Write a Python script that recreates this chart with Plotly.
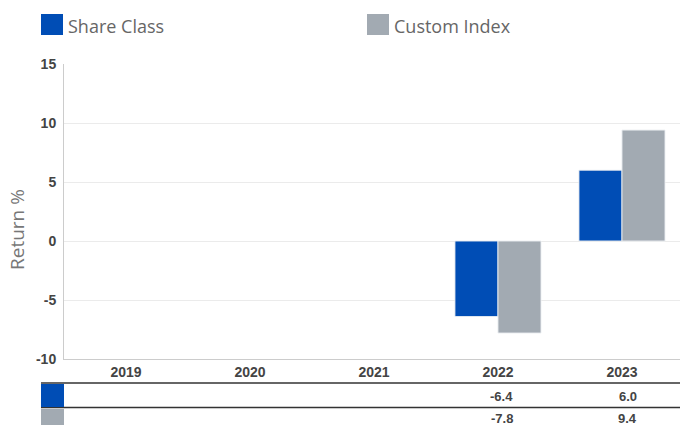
import plotly.graph_objects as go

years = ["2019", "2020", "2021", "2022", "2023"]
share_class = [None, None, None, -6.4, 6.0]
custom_index = [None, None, None, -7.8, 9.4]
series_names = ["Share Class", "Custom Index"]
series_colors = ["#004DB5", "#A2AAB2"]
y_ticks = [-10, -5, 0, 5, 10, 15]
y_tick_labels = ["-10", "-5", "0", "5", "10", "15"]

W, H = 680, 425
ML, MR, MT, MB = 64, 0, 64, 66
PW, PH = W - ML - MR, H - MT - MB


def px2x(px):
    return (px - ML) / PW


def px2y(py):
    return (H - MB - py) / PH


fig = go.Figure()
for name, vals, col in zip(series_names, [share_class, custom_index], series_colors):
    fig.add_trace(go.Bar(
        x=years, y=vals, name=name,
        marker=dict(color=col, line=dict(color="rgba(235,238,242,0.9)", width=1)),
        showlegend=False, hoverinfo="skip",
    ))

shapes = []
annotations = []

# legend
leg_x = [41, 367]
for i, (name, col) in enumerate(zip(series_names, series_colors)):
    x0 = leg_x[i]
    shapes.append(dict(type="rect", xref="paper", yref="paper",
                       x0=px2x(x0), x1=px2x(x0 + 22), y0=px2y(35), y1=px2y(14),
                       fillcolor=col, line=dict(width=0)))
    annotations.append(dict(xref="paper", yref="paper", x=px2x(x0 + 25), y=px2y(26),
                            text=name, showarrow=False, xanchor="left", yanchor="middle",
                            font=dict(family="Open Sans", size=18, color="#666666")))

# y title
annotations.append(dict(xref="paper", yref="paper", x=px2x(17), y=px2y(230),
                        text="Return %", textangle=-90, showarrow=False,
                        xanchor="center", yanchor="middle",
                        font=dict(family="Open Sans", size=19, color="#777777")))

# table lines
for ly in [383, 407.5]:
    shapes.append(dict(type="line", xref="paper", yref="paper",
                       x0=px2x(41), x1=1, y0=px2y(ly), y1=px2y(ly),
                       line=dict(color="#333333", width=1.5)))

# table swatches and values
row_tops = [384, 409]
row_mid = [396, 418]
for i, (vals, col) in enumerate(zip([share_class, custom_index], series_colors)):
    shapes.append(dict(type="rect", xref="paper", yref="paper",
                       x0=px2x(41), x1=px2x(64), y0=px2y(row_tops[i] + 23), y1=px2y(row_tops[i]),
                       fillcolor=col, line=dict(width=0)))
    for k, v in enumerate(vals):
        if v is None:
            continue
        annotations.append(dict(xref="x", yref="paper", x=k, y=px2y(row_mid[i]),
                                text="%.1f" % v, showarrow=False,
                                xanchor="right", yanchor="middle", xshift=17,
                                font=dict(family="Liberation Sans", size=13,
                                          color="#444444", weight="bold")))

fig.update_layout(
    width=W, height=H,
    margin=dict(l=ML, r=MR, t=MT, b=MB),
    paper_bgcolor="white", plot_bgcolor="white",
    barmode="group", bargap=0.306, bargroupgap=0,
    shapes=shapes, annotations=annotations,
    font=dict(family="Liberation Sans"),
)
fig.update_xaxes(
    type="category", range=[-0.5, 4.468],
    showgrid=False, showline=True, linecolor="#cccccc", linewidth=1,
    tickfont=dict(family="Liberation Sans", size=14, color="#444444", weight="bold"),
    ticks="",
)
fig.update_yaxes(
    range=[-10, 15], tickvals=y_ticks, ticktext=y_tick_labels,
    showgrid=True, gridcolor="#ebebeb", gridwidth=1,
    zeroline=True, zerolinecolor="#ebebeb", zerolinewidth=1,
    showline=True, linecolor="#cccccc", linewidth=1,
    tickfont=dict(family="Liberation Sans", size=14, color="#444444", weight="bold"),
    ticks="", ticklabelstandoff=4,
)

fig.write_html("out.html", config={"displayModeBar": False},
               post_script="document.body.style.margin='0';document.body.style.overflow='hidden';")
